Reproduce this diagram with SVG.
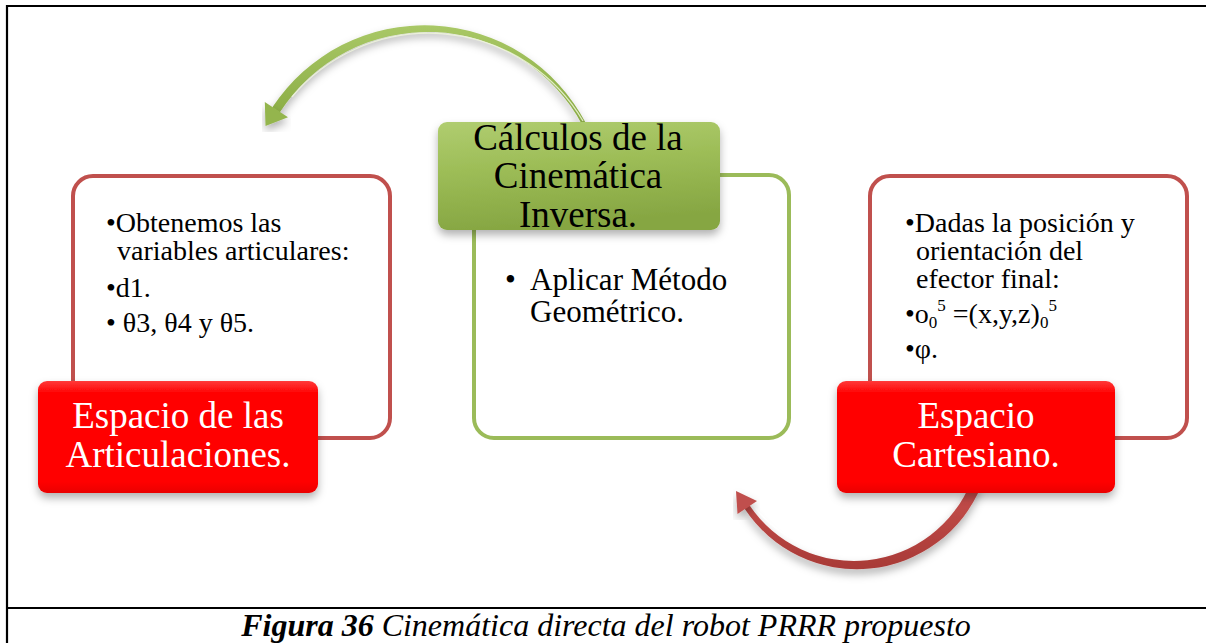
<svg xmlns="http://www.w3.org/2000/svg" width="1206" height="643" viewBox="0 0 1206 643">
<defs>
<style>
.frame{stroke:#000;stroke-width:2.2;fill:none}
.cont-red{fill:#fff;stroke:#c0504d;stroke-width:4}
.cont-green{fill:#fff;stroke:#9bbb59;stroke-width:4}
.t{font-family:"Liberation Serif","Times New Roman",serif;fill:#000}
.body{font-size:28px}
.lbl{font-size:37px;text-anchor:middle}
.white{fill:#fff}
.cap{font-family:"Liberation Serif","Times New Roman",serif;font-size:32px;font-style:italic;text-anchor:middle}
</style>
<linearGradient id="gRed" x1="0" y1="0" x2="0" y2="1">
<stop offset="0" stop-color="#ff3a3a"/>
<stop offset="0.1" stop-color="#ff0505"/>
<stop offset="0.9" stop-color="#ff0000"/>
<stop offset="1" stop-color="#ea0000"/>
</linearGradient>
<linearGradient id="gGreen" x1="0" y1="0" x2="0.2" y2="1">
<stop offset="0" stop-color="#b0cd70"/>
<stop offset="0.45" stop-color="#9dbd57"/>
<stop offset="1" stop-color="#86a642"/>
</linearGradient>
<linearGradient id="gArrG" x1="0" y1="0" x2="0" y2="1">
<stop offset="0" stop-color="#a9c866"/>
<stop offset="1" stop-color="#88aa42"/>
</linearGradient>
<linearGradient id="gArrR" x1="0" y1="0" x2="0" y2="1">
<stop offset="0" stop-color="#c8504d"/>
<stop offset="1" stop-color="#a83a37"/>
</linearGradient>
<filter id="sh" x="-10%" y="-10%" width="120%" height="135%">
<feDropShadow dx="0" dy="5" stdDeviation="4" flood-color="#000" flood-opacity="0.3"/>
</filter>
</defs>

<g id="frame">
<line class="frame" x1="7" y1="6" x2="1206" y2="6"/>
<line class="frame" x1="7" y1="5" x2="7" y2="643"/>
<line class="frame" x1="7" y1="608" x2="1206" y2="608"/>
</g>

<g id="connectors">
<path d="M 585.8 123.1 A 182 182 0 0 0 272.2 107.6 L 279.7 112.6 A 175.5 175.5 0 0 1 582.3 125 Z" fill="url(#gArrG)" filter="url(#sh)"/>
<path d="M 583 121 A 179 179 0 0 0 292 97" fill="none" stroke="#eef5dc" stroke-width="1.3" opacity="0.85"/>
<polygon points="265.5,126 288,117.2 264.8,102" fill="#94b54e" filter="url(#sh)"/>
<path d="M 981.4 485.6 A 134.5 134.5 0 0 1 744.5 508.6 L 749.5 505.3 A 126 126 0 0 0 971.2 481.4 Z" fill="url(#gArrR)" filter="url(#sh)"/>
<path d="M 900 545 A 128 128 0 0 1 752 504" fill="none" stroke="#fff" stroke-width="1.5" opacity="0.85"/>
<polygon points="736,491 757,501 737.5,514" fill="#c0504d" filter="url(#sh)"/>
</g>

<g id="node-articulaciones">
<rect class="cont-red" x="73" y="176" width="317" height="262" rx="20"/>
<text class="t body"><tspan x="106" y="232">•Obtenemos las</tspan><tspan x="117" y="260">variables articulares:</tspan><tspan x="106" y="297">•d1.</tspan><tspan x="106" y="332">•  θ3, θ4 y θ5.</tspan></text>
<rect x="38" y="381" width="280" height="112" rx="9" fill="url(#gRed)" filter="url(#sh)"/>
<text class="t lbl white"><tspan x="178" y="428">Espacio de las</tspan><tspan x="178" y="467">Articulaciones.</tspan></text>
</g>

<g id="node-calculos">
<rect class="cont-green" x="474" y="175" width="315" height="263" rx="20"/>
<text class="t" font-size="31"><tspan x="505" y="290">•</tspan><tspan x="530" y="290">Aplicar Método</tspan><tspan x="530" y="322">Geométrico.</tspan></text>
<rect x="438" y="122" width="282" height="108" rx="9" fill="url(#gGreen)" filter="url(#sh)"/>
<text class="t lbl"><tspan x="578" y="150">Cálculos de la</tspan><tspan x="578" y="188">Cinemática</tspan><tspan x="578" y="227">Inversa.</tspan></text>
</g>

<g id="node-cartesiano">
<rect class="cont-red" x="870" y="176" width="317" height="262" rx="20"/>
<text class="t body"><tspan x="905" y="232">•Dadas la posición y</tspan><tspan x="916" y="260">orientación del</tspan><tspan x="916" y="288">efector final:</tspan></text>
<text class="t body" x="905" y="323">•o<tspan font-size="17" dy="5">0</tspan><tspan font-size="17" dy="-17">5</tspan><tspan dy="12"> =(x,y,z)</tspan><tspan font-size="17" dy="5">0</tspan><tspan font-size="17" dy="-17">5</tspan></text>
<text class="t body" x="905" y="358">•φ.</text>
<rect x="837" y="381" width="278" height="112" rx="9" fill="url(#gRed)" filter="url(#sh)"/>
<text class="t lbl white"><tspan x="976" y="428">Espacio</tspan><tspan x="976" y="467">Cartesiano.</tspan></text>
</g>

<g id="caption">
<text class="cap" x="606" y="636"><tspan font-weight="bold">Figura 36</tspan> Cinemática directa del robot PRRR propuesto</text>
</g>
</svg>
